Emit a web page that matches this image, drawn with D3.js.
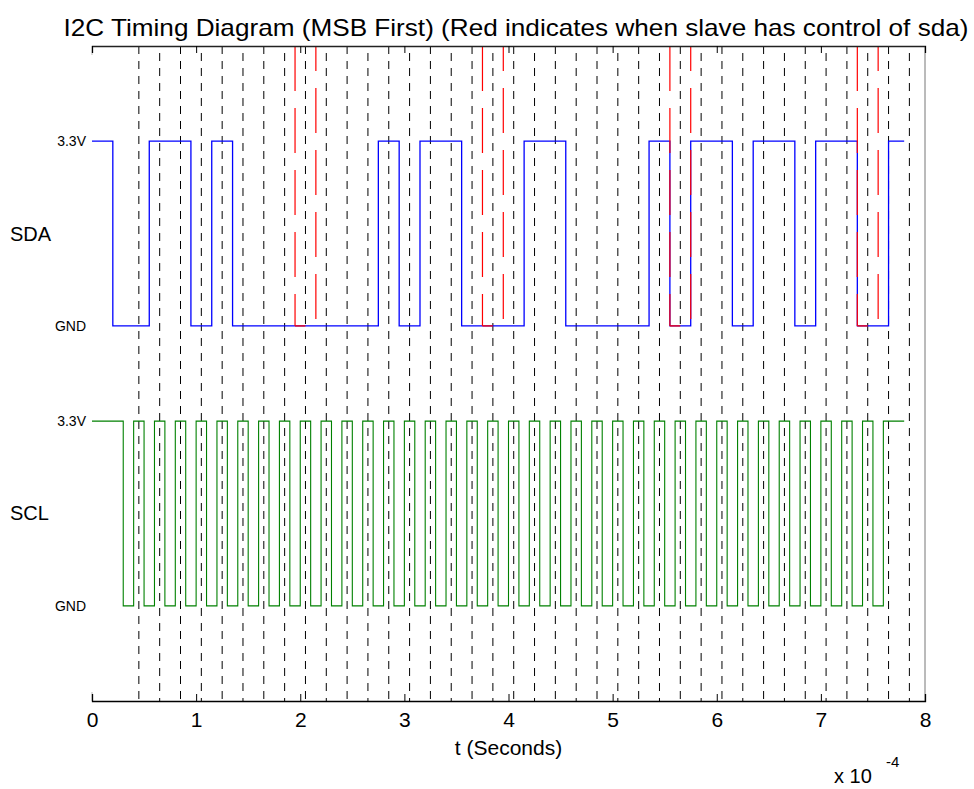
<!DOCTYPE html>
<html>
<head>
<meta charset="utf-8">
<script src="https://cdn.jsdelivr.net/npm/d3@7"></script>
<style>
body { margin: 0; background: #fff; }
text { font-family: "Liberation Sans", Arial, sans-serif; }
</style>
</head>
<body>
<div id="chart"></div>
<script>
// time in units of 1e-4 s
const sdaTimes = [0, 0.2, 0.55, 0.95, 1.15, 1.35, 2.75, 2.95, 3.15, 3.55, 4.15,
    4.55, 5.35, 5.55, 5.75, 6.15, 6.35, 6.75, 6.95, 7.35, 7.65, 7.8];
const sdaLevels = [1, 0, 1, 0, 1, 0, 1, 0, 1, 0, 1, 0, 1, 0, 1, 0, 1, 0, 1, 0, 1, 1];

const sclTimes = [0, 0.3, 0.4, 0.5, 0.6, 0.7, 0.8, 0.9, 1.0, 1.1, 1.2, 1.3, 1.4, 1.5,
    1.6, 1.7, 1.8, 1.9, 2.0, 2.1, 2.2, 2.3, 2.4, 2.5, 2.6, 2.7, 2.8, 2.9, 3.0, 3.1,
    3.2, 3.3, 3.4, 3.5, 3.6, 3.7, 3.8, 3.9, 4.0, 4.1, 4.2, 4.3, 4.4, 4.5, 4.6, 4.7,
    4.8, 4.9, 5.0, 5.1, 5.2, 5.3, 5.4, 5.5, 5.6, 5.7, 5.8, 5.9, 6.0, 6.1, 6.2, 6.3,
    6.4, 6.5, 6.6, 6.7, 6.8, 6.9, 7.0, 7.1, 7.2, 7.3, 7.4, 7.5, 7.6, 7.8];
const sclLevels = [1, 0, 1, 0, 1, 0, 1, 0, 1, 0, 1, 0, 1, 0, 1, 0, 1, 0, 1, 0, 1, 0,
    1, 0, 1, 0, 1, 0, 1, 0, 1, 0, 1, 0, 1, 0, 1, 0, 1, 0, 1, 0, 1, 0, 1, 0, 1, 0, 1,
    0, 1, 0, 1, 0, 1, 0, 1, 0, 1, 0, 1, 0, 1, 0, 1, 0, 1, 0, 1, 0, 1, 0, 1, 0, 1, 1];

// sampling instants (middle of each SCL high)
const sampleTimes = [0.45, 0.65, 0.85, 1.05, 1.25, 1.45, 1.65, 1.85, 2.05, 2.25,
    2.45, 2.65, 2.85, 3.05, 3.25, 3.45, 3.65, 3.85, 4.05, 4.25, 4.45, 4.65, 4.85,
    5.05, 5.25, 5.45, 5.65, 5.85, 6.05, 6.25, 6.45, 6.65, 6.85, 7.05, 7.25, 7.45,
    7.65, 7.85];

// slave (ACK) windows
const slaveStart = [1.95, 3.75, 5.55, 7.35];
const slaveEnd = [2.15, 3.95, 5.75, 7.55];
const slaveLowEnd = [2.05, 3.85, 5.65, 7.45];

const xTicks = [0, 1, 2, 3, 4, 5, 6, 7, 8];
const sdaOffset = 5, vHigh = 3.3;
const yLabels = [
    { v: vHigh + sdaOffset, t: "3.3V" }, { v: sdaOffset, t: "GND" },
    { v: vHigh, t: "3.3V" }, { v: 0, t: "GND" }
];
const signalNames = [
    { v: sdaOffset + vHigh / 2, t: "SDA" }, { v: vHigh / 2, t: "SCL" }
];

const width = 974, height = 789;
const margin = { left: 92, right: 925, top: 46, bottom: 701 };

const xScale = d3.scaleLinear().domain([0, 8]).range([margin.left, margin.right]);
const yScale = d3.scaleLinear().domain([-1.7, 10]).range([margin.bottom, margin.top]);

const svg = d3.select("#chart").append("svg")
    .attr("width", width)
    .attr("height", height);

// sample lines
svg.selectAll(".sample")
    .data(sampleTimes)
    .join("line")
    .attr("class", "sample")
    .attr("x1", d => xScale(d)).attr("x2", d => xScale(d))
    .attr("y1", margin.top).attr("y2", margin.bottom)
    .attr("stroke", "#000")
    .attr("stroke-width", 1)
    .attr("stroke-dasharray", "8,7")
    .attr("stroke-dashoffset", (d, i) => i % 2 ? 8 : 0);

const step = d3.line()
    .x(d => xScale(d[0]))
    .y(d => yScale(d[1]))
    .curve(d3.curveStepAfter);

const sdaPts = sdaTimes.map((t, i) => [t, sdaLevels[i] * vHigh + sdaOffset]);
const sclPts = sclTimes.map((t, i) => [t, sclLevels[i] * vHigh]);

svg.append("path")
    .attr("d", step(sdaPts))
    .attr("fill", "none")
    .attr("stroke", "#0000ff")
    .attr("stroke-width", 1.3);

svg.append("path")
    .attr("d", step(sclPts))
    .attr("fill", "none")
    .attr("stroke", "#008000")
    .attr("stroke-width", 1.1);

// slave control in red
svg.selectAll(".ackLow")
    .data(slaveStart)
    .join("line")
    .attr("class", "ackLow")
    .attr("x1", d => xScale(d))
    .attr("x2", (d, i) => xScale(slaveLowEnd[i]))
    .attr("y1", yScale(sdaOffset)).attr("y2", yScale(sdaOffset))
    .attr("stroke", "#ff0000")
    .attr("stroke-width", 1.3);

const redLines = slaveStart.map(d => ({ t: d, off: 0 }))
    .concat(slaveEnd.map(d => ({ t: d, off: 20 })));

svg.selectAll(".slave")
    .data(redLines)
    .join("line")
    .attr("class", "slave")
    .attr("x1", d => xScale(d.t)).attr("x2", d => xScale(d.t))
    .attr("y1", margin.top).attr("y2", yScale(sdaOffset))
    .attr("stroke", "#ff0000")
    .attr("stroke-width", 1.2)
    .attr("stroke-dasharray", "45,17")
    .attr("stroke-dashoffset", d => d.off);

// box
svg.append("line")
    .attr("x1", margin.right).attr("x2", margin.right)
    .attr("y1", margin.top).attr("y2", margin.bottom)
    .attr("stroke", "#777");
svg.append("line")
    .attr("x1", margin.left).attr("x2", margin.left)
    .attr("y1", margin.top).attr("y2", margin.top + 9)
    .attr("stroke", "#bbb");
svg.append("line")
    .attr("x1", margin.left).attr("x2", margin.left)
    .attr("y1", margin.bottom - 9).attr("y2", margin.bottom)
    .attr("stroke", "#bbb");

const xAxisGroup = svg.append("g")
    .attr("transform", `translate(0,${margin.bottom})`)
    .call(d3.axisBottom(xScale).tickValues(xTicks).tickSize(-7).tickPadding(11)
        .tickFormat(d3.format("d")));
xAxisGroup.select(".domain").attr("stroke", "#000").attr("stroke-width", 1.3);
xAxisGroup.selectAll(".tick line").attr("stroke", "#000");
xAxisGroup.selectAll("text")
    .attr("fill", "#000")
    .style("font-size", "21px")
    .style("font-family", "'Liberation Sans', Arial, sans-serif");

const topAxis = svg.append("g")
    .attr("transform", `translate(0,${margin.top})`)
    .call(d3.axisTop(xScale).tickValues(xTicks).tickSize(-7).tickFormat(""));
topAxis.select(".domain").attr("stroke", "#222").attr("stroke-width", 1.3);
topAxis.selectAll(".tick line").attr("stroke", "#000");

// level labels
svg.selectAll(".level")
    .data(yLabels)
    .join("text")
    .attr("class", "level")
    .attr("x", 86)
    .attr("y", d => yScale(d.v))
    .attr("dy", "0.35em")
    .attr("text-anchor", "end")
    .style("font-size", "14px")
    .text(d => d.t);

svg.selectAll(".signal")
    .data(signalNames)
    .join("text")
    .attr("class", "signal")
    .attr("x", 10)
    .attr("y", d => yScale(d.v))
    .attr("dy", "0.35em")
    .style("font-size", "20px")
    .text(d => d.t);

svg.append("text")
    .attr("x", 516)
    .attr("y", 36)
    .attr("text-anchor", "middle")
    .attr("textLength", 905)
    .attr("lengthAdjust", "spacingAndGlyphs")
    .style("font-size", "24px")
    .text("I2C Timing Diagram (MSB First) (Red indicates when slave has control of sda)");

svg.append("text")
    .attr("x", (margin.left + margin.right) / 2)
    .attr("y", 755)
    .attr("text-anchor", "middle")
    .style("font-size", "21px")
    .text("t (Seconds)");

svg.append("text")
    .attr("x", 834)
    .attr("y", 783)
    .style("font-size", "20px")
    .text("x 10");
svg.append("text")
    .attr("x", 886)
    .attr("y", 767)
    .style("font-size", "15px")
    .text("-4");
</script>
</body>
</html>
